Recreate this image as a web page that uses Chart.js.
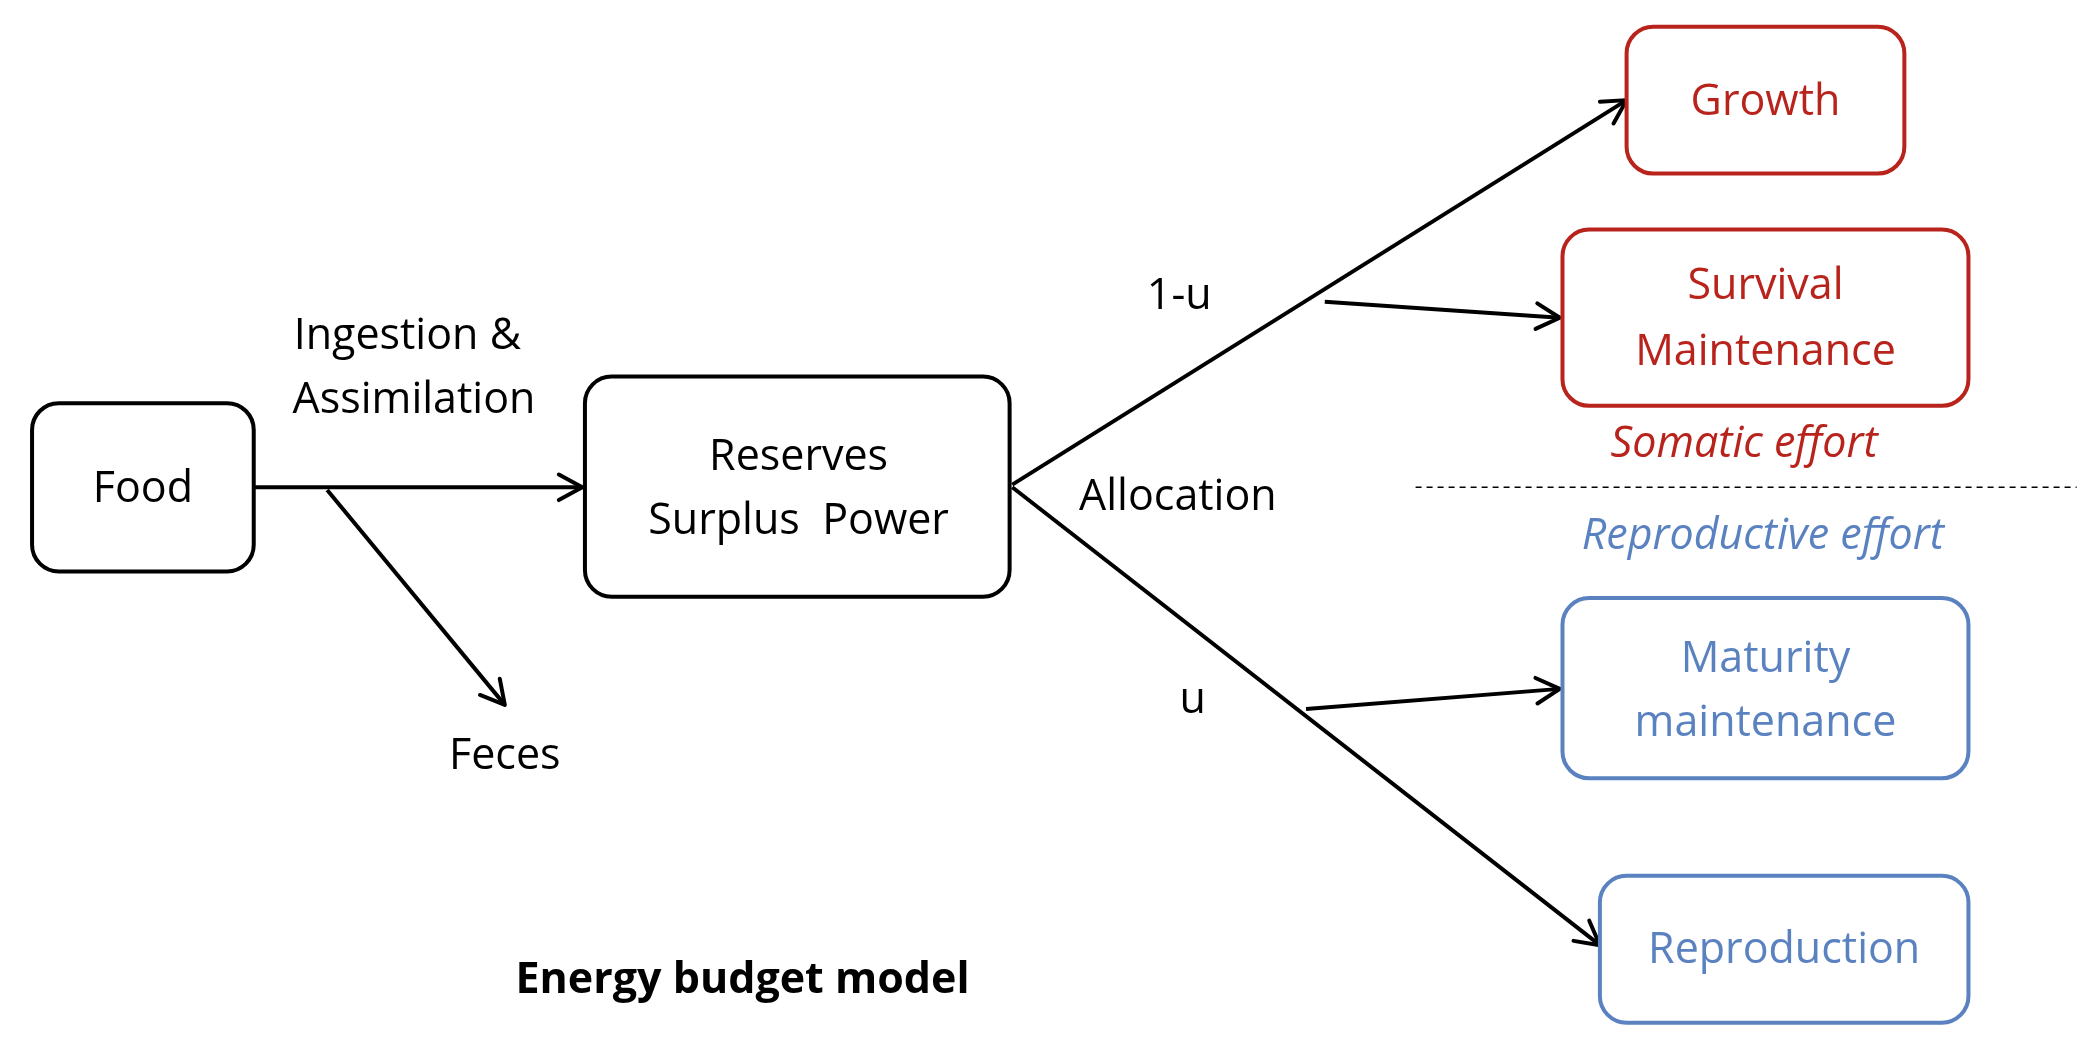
<!DOCTYPE html>
<html><head><meta charset="utf-8">
<script src="https://cdn.jsdelivr.net/npm/chart.js"></script>
<style>html,body{margin:0;padding:0;background:#fff}#w{width:2094px;height:1052px}</style>
</head><body><div id="w"><canvas id="c"></canvas></div>
<script>
const RED='#b8231c', BLUE='#5b82c0', BLACK='#000';
// boxes: [x1,y1,x2,y2,color] in reference units (1568 x 788)
const boxNames=['Food','Reserves','Growth','Survival','Maturity','Reproduction'];
const boxRects=[[24,302,190,428],[438,282,756,447],[1218,20,1426,130],[1170,172,1474,304],[1170,448,1474,583],[1198,656,1474,766]];
const boxColors=[BLACK,BLACK,RED,RED,BLUE,BLUE];
// text labels
const labelTexts=['Food','Reserves','Surplus  Power','Growth','Survival','Maintenance','Somatic effort','Reproductive effort','Maturity','maintenance','Reproduction','Ingestion &','Assimilation','Feces','1-u','u','Allocation','Energy budget model'];
const labelPos=[[107,367],[598,343],[598,391],[1322,77],[1322,215],[1322,264],[1306,333],[1320,402],[1322,494],[1322,542],[1336,712],[305,252],[310,300],[378,567],[883,222],[893,525],[882,373],[556,735]];
const labelColors=[BLACK,BLACK,BLACK,RED,RED,RED,RED,BLUE,BLUE,BLUE,BLUE,BLACK,BLACK,BLACK,BLACK,BLACK,BLACK,BLACK];
const labelStyle=['','','','','','','italic','italic','','','','','','','','','','bold'];
// arrows: from -> to
const arrowFrom=[[190,365],[245,367],[758,363],[992,226],[758,365],[978,531]];
const arrowTo=[[436,365],[378,528],[1218,75],[1168,238],[1198,708],[1168,516]];

const datasets=arrowFrom.map((f,i)=>({type:'line',data:[{x:f[0],y:f[1]},{x:arrowTo[i][0],y:arrowTo[i][1]}],borderColor:'#000',borderWidth:4,pointRadius:0,showLine:true}));
datasets.push({type:'line',data:[{x:1060,y:365},{x:1555,y:365}],borderColor:'#000',borderWidth:1.5,borderDash:[6,5],pointRadius:0,showLine:true});

const diagram={id:'diagram',afterDatasetsDraw(chart){
  const ctx=chart.ctx,X=chart.scales.x,Y=chart.scales.y;
  const px=v=>X.getPixelForValue(v),py=v=>Y.getPixelForValue(v);
  const s=chart.width/1568;
  ctx.save();
  // arrow heads
  arrowFrom.forEach((f,i)=>{
    const t=arrowTo[i];const x2=px(t[0]),y2=py(t[1]),x1=px(f[0]),y1=py(f[1]);
    const a=Math.atan2(y2-y1,x2-x1),L=20*s;
    ctx.strokeStyle='#000';ctx.lineWidth=4;ctx.lineCap='round';ctx.lineJoin='round';
    ctx.beginPath();ctx.moveTo(x2-L*Math.cos(a-0.5),y2-L*Math.sin(a-0.5));ctx.lineTo(x2,y2);
    ctx.lineTo(x2-L*Math.cos(a+0.5),y2-L*Math.sin(a+0.5));ctx.stroke();
  });
  boxRects.forEach((r,i)=>{
    const x=px(r[0]),y=py(r[1]),w=px(r[2])-x,h=py(r[3])-y;
    ctx.strokeStyle=boxColors[i];ctx.lineWidth=4;ctx.fillStyle='#fff';
    ctx.beginPath();ctx.roundRect(x,y,w,h,20*s);ctx.fill();ctx.stroke();
  });
  ctx.textAlign='center';ctx.textBaseline='middle';
  labelTexts.forEach((t,i)=>{
    const st=labelStyle[i];
    ctx.font=(st==='italic'?'italic ':'')+(st==='bold'?'bold ':'')+Math.round(32*s)+'px "Open Sans", sans-serif';
    ctx.fillStyle=labelColors[i];
    ctx.fillText(t,px(labelPos[i][0]),py(labelPos[i][1]));
  });
  ctx.restore();
}};

new Chart(document.getElementById('c'),{
  type:'scatter',
  data:{datasets},
  options:{responsive:true,maintainAspectRatio:false,animation:false,
    layout:{padding:0},
    plugins:{legend:{display:false},tooltip:{enabled:false}},
    scales:{x:{type:'linear',min:0,max:1568,display:false},
            y:{type:'linear',min:0,max:788,reverse:true,display:false}}},
  plugins:[diagram]
});
</script></body></html>
